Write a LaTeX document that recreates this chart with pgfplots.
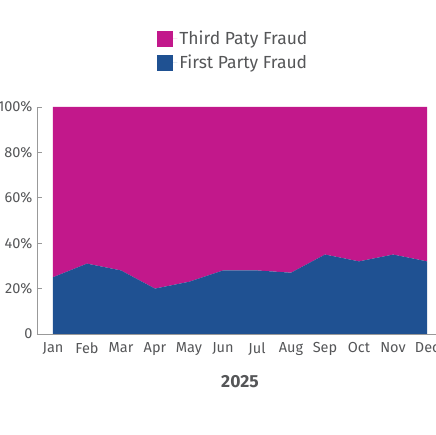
\documentclass[border=0pt]{standalone}
\usepackage{pgfplots}
\pgfplotsset{compat=1.18}
\usepackage{fontspec}
\setmainfont{Fira Sans}
\definecolor{thirdc}{HTML}{C2188B}
\definecolor{firstc}{HTML}{1F5192}
\definecolor{txt}{HTML}{555658}
\begin{document}
\begin{tikzpicture}[x=1pt,y=1pt]
\begin{axis}[
  at={(37pt,101pt)}, anchor=south west,
  scale only axis, width=406pt, height=227pt,
  xmin=-0.47, xmax=11.47, ymin=0, ymax=100,
  stack plots=y,
  axis x line=bottom, axis y line=left,
  axis line style={-, draw=gray!80, line width=0.9pt},
  xtick={0,...,11},
  xticklabels={Jan,Feb,Mar,Apr,May,Jun,Jul,Aug,Sep,Oct,Nov,Dec},
  x tick style={draw=none},
  ytick={0,20,40,60,80,100},
  yticklabels={0,20\%,40\%,60\%,80\%,100\%},
  y tick style={draw=gray!80, line width=0.9pt},
  tick align=inside, major tick length=5pt,
  tick label style={text=txt},
  yticklabel style={font=\fontsize{14.5}{14.5}\selectfont, xshift=-1pt},
  xticklabel style={font=\fontsize{14.5}{14.5}\selectfont, yshift=-5pt},
  xlabel={2025},
  xlabel style={font=\fontsize{17.5}{17.5}\selectfont\bfseries, text=txt, yshift=-13pt},
  reverse legend,
  legend style={at={(axis description cs:0.296,1.344)}, anchor=north west,
    draw=none, fill=none, inner sep=0pt, row sep=5pt,
    font=\fontsize{17.5}{17.5}\selectfont, text=txt, legend cell align=left},
  legend image code/.code={\fill[#1] (0pt,-8pt) rectangle (16pt,8pt); \path (0pt,0pt) -- (20pt,0pt);},
]
\addplot[fill=firstc, draw=none] coordinates {(0,25) (1,31) (2,28) (3,20) (4,23) (5,28) (6,28) (7,27) (8,35) (9,32) (10,35) (11,32)} \closedcycle;
\addlegendentry{First Party Fraud}
\addplot[fill=thirdc, draw=none] coordinates {(0,75) (1,69) (2,72) (3,80) (4,77) (5,72) (6,72) (7,73) (8,65) (9,68) (10,65) (11,68)} \closedcycle;
\addlegendentry{Third Paty Fraud}
\end{axis}
\pgfresetboundingbox
\useasboundingbox (0,0) rectangle (435,435);
\end{tikzpicture}
\end{document}
